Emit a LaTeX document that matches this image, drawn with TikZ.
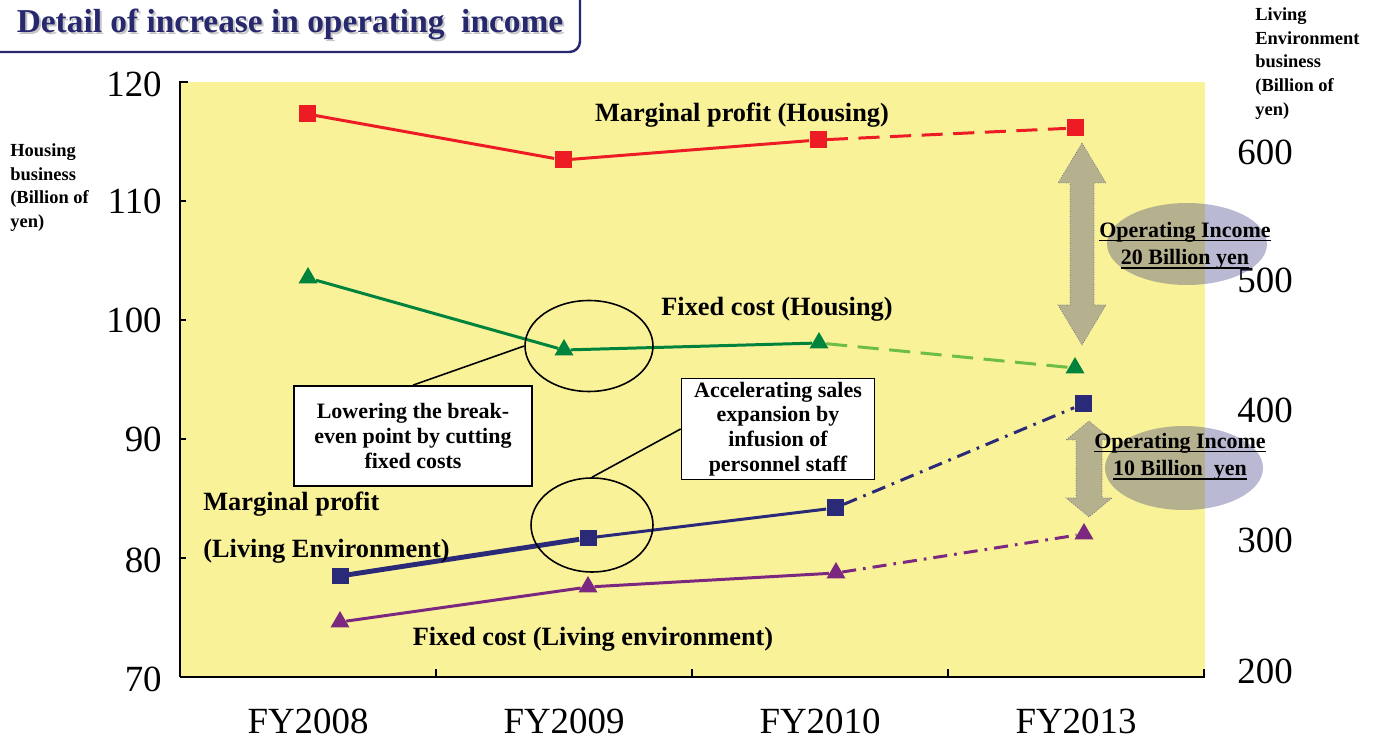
\documentclass[tikz,border=0pt]{standalone}
\usepackage{fontspec}
\setmainfont{Liberation Serif}
\usepackage{tikz}
\usetikzlibrary{shapes,positioning}

\definecolor{plotyellow}{RGB}{249,242,153}
\definecolor{navyblue}{RGB}{43,42,120}
\definecolor{titlenavy}{RGB}{40,40,110}
\definecolor{mpred}{RGB}{237,28,36}
\definecolor{fcgreen}{RGB}{0,132,61}
\definecolor{fclight}{RGB}{110,190,70}
\definecolor{fcpurple}{RGB}{125,40,128}

% underline at a fixed depth
\newcommand{\ulin}[1]{\setbox0\hbox{#1}\rlap{\rule[-2.2pt]{\wd0}{0.8pt}}\box0}

\begin{document}
\begin{tikzpicture}[x=0.02cm, y=-0.02cm,
  ticklbl/.style={font=\fontsize{21}{24}\selectfont, inner sep=0pt},
  serlbl/.style={font=\fontsize{15}{18}\selectfont\bfseries, inner sep=0pt},
  axtitle/.style={font=\fontsize{10.5}{13.6}\selectfont\bfseries, align=left, inner sep=0pt, anchor=north west},
  callout/.style={draw, line width=1pt, fill=white, font=\fontsize{12.5}{14}\selectfont\bfseries, align=center, inner sep=0pt},
  ring/.style={draw, ellipse, line width=0.9pt, inner sep=0pt},
  mksq/.style={rectangle, fill=#1, minimum size=0.34cm, inner sep=0pt},
  mktri/.style={regular polygon, regular polygon sides=3, fill=#1, minimum size=0.44cm, inner sep=0pt},
  oparrow/.style={fill=navyblue, fill opacity=0.33, draw=navyblue, draw opacity=0.6, densely dotted, line width=0.4pt},
  opshade/.style={ellipse, fill=navyblue, fill opacity=0.33, inner sep=0pt},
  optext/.style={font=\fontsize{12.5}{15.5}\selectfont\bfseries, align=center, inner sep=0pt}
]
\useasboundingbox (0,0) rectangle (1379,742);

% Title
\draw[titlenavy, line width=1.4pt, rounded corners=6pt] (-20,-20) rectangle (580,52);
\node[font=\fontsize{19}{21}\selectfont\bfseries, text=gray!45, anchor=base] (titleshadow) at (292,35) {Detail of increase in operating~ income};
\node[font=\fontsize{19}{21}\selectfont\bfseries, text=titlenavy, anchor=base] (title) at (290,33) {Detail of increase in operating~ income};

% Plot area and axes
\fill[plotyellow] (180,82) rectangle (1205,677);
\draw[line width=1.1pt] (188,82) -- (180,82) -- (180,677);
\foreach \y in {201,320,439,558} \draw[line width=0.6pt] (180,\y) -- (186,\y);
\draw[line width=1.7pt] (180,677) -- (1205,677);
\foreach \x in {436,692,948,1204} \draw[line width=0.8pt] (\x,677) -- (\x,669);

\foreach \v/\y in {120/84,110/201,100/320,90/439,80/560,70/679}
  \node[ticklbl, anchor=east] (yl\v) at (162,\y) {\v};
\foreach \v/\y in {600/152,500/280,400/410,300/540,200/671}
  \node[ticklbl, anchor=west] (yr\v) at (1237,\y) {\v};
\foreach \lbl/\x in {FY2008/308,FY2009/564,FY2010/820,FY2013/1076}
  \node[ticklbl] (\lbl) at (\x,721) {\lbl};

\node[axtitle] (ltitle) at (10,143) {Housing\\business\\(Billion of\\yen)};
\node[axtitle] (rtitle) at (1255,7) {Living\\Environment\\business\\(Billion of\\yen)};

% Data markers
\node[mksq=mpred] (mph1) at (307,114) {};
\node[mksq=mpred] (mph2) at (563,160) {};
\node[mksq=mpred] (mph3) at (818,140) {};
\node[mksq=mpred] (mph4) at (1075,128) {};

\node[mktri=fcgreen] (fch1) at (308,278) {};
\node[mktri=fcgreen] (fch2) at (564,350) {};
\node[mktri=fcgreen] (fch3) at (819,343) {};
\node[mktri=fcgreen] (fch4) at (1075,368) {};

\node[mksq=navyblue] (mpl1) at (340,576) {};
\node[mksq=navyblue] (mpl2) at (588,538) {};
\node[mksq=navyblue] (mpl3) at (835,508) {};
\node[mksq=navyblue] (mpl4) at (1083,404) {};

\node[mktri=fcpurple] (fcl1) at (340,622) {};
\node[mktri=fcpurple] (fcl2) at (588,587) {};
\node[mktri=fcpurple] (fcl3) at (836,573) {};
\node[mktri=fcpurple] (fcl4) at (1084,534) {};

% Lines
\draw[mpred, line width=1.7pt] (mph1) -- (mph2) -- (mph3);
\draw[mpred, line width=1.7pt, dash pattern=on 12pt off 6pt] (mph3) -- (mph4);
\draw[fcgreen, line width=1.7pt] (fch1) -- (fch2) -- (fch3);
\draw[fclight, line width=1.7pt, dash pattern=on 12pt off 6pt] (fch3) -- (fch4);
\draw[navyblue, line width=2.8pt] (mpl1) -- (mpl2);
\draw[navyblue, line width=1.7pt] (mpl2) -- (mpl3);
\draw[navyblue, line width=1.7pt, dash pattern=on 8pt off 4pt on 1.5pt off 4pt] (mpl3) -- (mpl4);
\draw[fcpurple, line width=1.7pt] (fcl1) -- (fcl2) -- (fcl3);
\draw[fcpurple, line width=1.7pt, dash pattern=on 8pt off 4pt on 1.5pt off 4pt] (fcl3) -- (fcl4);

% Callouts
\node[ring, minimum width=2.56cm, minimum height=1.82cm] (ringfixed) at (589,346) {};
\node[ring, minimum width=2.44cm, minimum height=1.88cm] (ringsales) at (592,525) {};
\node[callout, minimum width=4.76cm, minimum height=2cm] (lowerbox) at (413,436) {Lowering the break-\\even point by cutting\\fixed costs};
\node[callout, minimum width=3.86cm, minimum height=2.02cm] (salesbox) at (778,429) {Accelerating sales\\expansion by\\infusion of\\personnel staff};
\draw[line width=0.9pt] (lowerbox.north) -- (ringfixed.west);
\draw[line width=0.9pt] (salesbox.west) -- (ringsales.north);

% Series labels
\node[serlbl] (mphlbl) at (742,115) {Marginal profit (Housing)};
\node[serlbl] (fchlbl) at (777,309) {Fixed cost (Housing)};
\node[serlbl, anchor=west] (mpllbl) at (203,504) {Marginal profit};
\node[serlbl, anchor=west] (mpllbl2) at (203,551) {(Living Environment)};
\node[serlbl] (fcllbl) at (593,639) {Fixed cost (Living environment)};

% Operating income
\filldraw[oparrow] (1082,143) -- (1106,183) -- (1094,183) -- (1094,305) -- (1106,305) -- (1082,345)
  -- (1058,305) -- (1070,305) -- (1070,183) -- (1058,183) -- cycle;
\filldraw[oparrow] (1089,421) -- (1112,440) -- (1102,440) -- (1102,498) -- (1112,498) -- (1089,517)
  -- (1066,498) -- (1076,498) -- (1076,440) -- (1066,440) -- cycle;
\node[opshade, minimum width=3.2cm, minimum height=1.64cm] (opell1) at (1187,244) {};
\node[opshade, minimum width=3.16cm, minimum height=1.68cm] (opell2) at (1184,468) {};
\node[optext] (optext1) at (1185,246) {\ulin{Operating Income}\\\ulin{20 Billion yen}};
\node[optext] (optext2) at (1180,457) {\ulin{Operating Income}\\\ulin{10 Billion~ yen}};

\end{tikzpicture}
\end{document}
